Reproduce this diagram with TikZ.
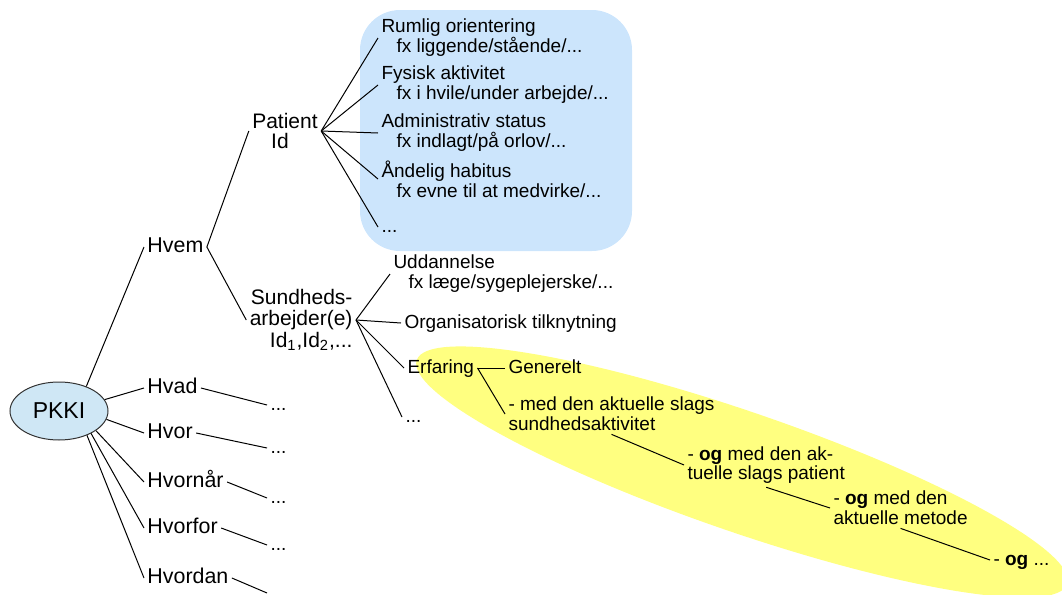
\documentclass[tikz,border=0pt]{standalone}
\usepackage{fontspec}
\setmainfont{Liberation Sans}
\usepackage{tikz}
\usetikzlibrary{shapes.geometric}
\definecolor{boxblue}{RGB}{204,229,252}
\definecolor{rootblue}{RGB}{207,231,245}
\definecolor{blobyellow}{RGB}{255,255,128}
\newcommand{\indt}{\hspace*{7.5pt}}

\begin{document}
\begin{tikzpicture}[x=0.5pt, y=-0.5pt, line width=0.5pt,
    word/.style={anchor=west, inner sep=1.5pt, text height=7pt, text depth=2pt, font=\fontsize{9.5}{10}\selectfont},
    ask/.style={word, font=\fontsize{10.7}{12}\selectfont},
    note/.style={anchor=west, inner sep=1.5pt, align=left, font=\fontsize{9.5}{10}\selectfont},
    trail/.style={note, font=\fontsize{9.5}{8.75}\selectfont}]
        \useasboundingbox (0,0) rectangle (1062,595);
        \clip (0,0) rectangle (1062,595);
        \fill[boxblue, rounded corners=20pt] (360,10) rectangle (632,251);
        \node[ellipse, fill=blobyellow, rotate=-19, minimum width=344pt, minimum height=60pt] (Blob) at (742,472) {};
        \node[ellipse, draw=black!80, fill=rootblue, minimum width=49pt, minimum height=29pt, inner sep=0pt, font=\fontsize{11.5}{12}\selectfont] (PKKI) at (59,411) {PKKI};
        \node[ask] (Hvem) at (144,247) {Hvem};
        \node[ask] (Hvad) at (144,388) {Hvad};
        \node[ask] (Hvor) at (144,433) {Hvor};
        \node[ask] (Hvornaar) at (144,482) {Hvornår};
        \node[ask] (Hvorfor) at (144,528) {Hvorfor};
        \node[ask] (Hvordan) at (144,578) {Hvordan};
        \node[word] (D1) at (267,405) {...};
        \node[word] (D2) at (267,448) {...};
        \node[word] (D3) at (267,498) {...};
        \node[word] (D4) at (267,545) {...};
        \node[word] (D5) at (267,593) {...};
        \node[note, align=center, anchor=center, font=\fontsize{10.5}{10}\selectfont] (Pat) at (285,131) {Patient\\Id\hspace*{5pt}};
        \node[note] (Rum) at (378,38) {Rumlig orientering\\\indt fx liggende/stående/...};
        \node[note] (Fys) at (378,85) {Fysisk aktivitet\\\indt fx i hvile/under arbejde/...};
        \node[note] (Adm) at (378,133) {Administrativ status\\\indt fx indlagt/på orlov/...};
        \node[note] (Aand) at (378,179) {Åndelig habitus\\\indt fx evne til at medvirke/...};
        \node[word] (PatDots) at (378,227) {...};
        \node[note, align=right, anchor=east, font=\fontsize{10.5}{10.75}\selectfont] (Sund) at (356,320) {Sundheds-\\arbejder(e)\\Id\textsubscript{1},Id\textsubscript{2},...};
        \node[note] (Udd) at (390,274) {Uddannelse\\\indt fx læge/sygeplejerske/...};
        \node[word] (Org) at (401,323) {Organisatorisk tilknytning};
        \node[word] (Erf) at (404,368) {Erfaring};
        \node[word] (SundDots) at (402,417) {...};
        \node[word] (Gen) at (505,368) {Generelt};
        \node[trail] (Med) at (505,414) {- med den aktuelle slags\\sundhedsaktivitet};
        \node[trail] (Og1) at (684,465) {- \textbf{og} med den ak-\\tuelle slags patient};
        \node[trail] (Og2) at (830,508) {- \textbf{og} med den\\aktuelle metode};
        \node[word] (Og3) at (990,560) {- \textbf{og} ...};
        \path
            (PKKI.42) edge (Hvem.west)
            (PKKI.14) edge (Hvad.west)
            (PKKI.-10) edge (Hvor.west)
            (PKKI.-28) edge (Hvornaar.west)
            (PKKI.-35) edge (Hvorfor.west)
            (PKKI.-41) edge (Hvordan.west)
            (Hvad.east) edge (D1.west)
            (Hvor.east) edge (D2.west)
            (Hvornaar.east) edge (D3.west)
            (Hvorfor.east) edge (D4.west)
            (Hvordan.east) edge (D5.west)
            (Hvem.east) edge (Pat.west)
            (Hvem.east) edge (Sund.west)
            (Pat.east) edge (Rum.west)
            (Pat.east) edge (Fys.west)
            (Pat.east) edge (Adm.west)
            (Pat.east) edge (Aand.west)
            (Pat.east) edge (PatDots.west)
            (Sund.east) edge (Udd.west)
            (Sund.east) edge (Org.west)
            (Sund.east) edge (Erf.west)
            (Sund.east) edge (SundDots.west)
            (Erf.east) edge (Gen.west)
            (Erf.east) edge (Med.west)
            (Med.south) edge (Og1.west)
            (Og1.south) edge (Og2.west)
            (Og2.south) edge (Og3.west);
    \end{tikzpicture}
\end{document}
